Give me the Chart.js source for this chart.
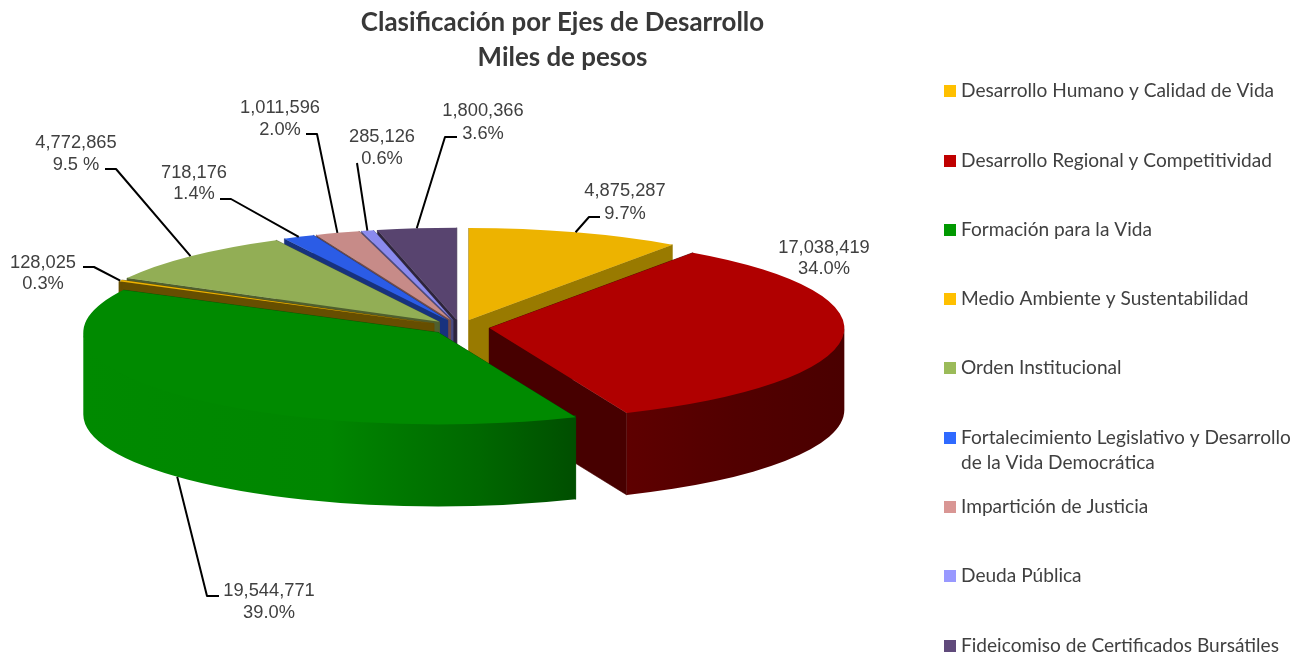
<!DOCTYPE html>
<html lang="es">
<head>
<meta charset="utf-8">
<title>Clasificación por Ejes de Desarrollo</title>
<script src="https://cdn.jsdelivr.net/npm/chart.js@4"></script>
<style>html,body{margin:0;padding:0;background:#fff;overflow:hidden}canvas{display:block}</style>
</head>
<body>
<canvas id="c" width="1309" height="656"></canvas>
<script>
const categories = ["Desarrollo Humano y Calidad de Vida","Desarrollo Regional y Competitividad","Formación para la Vida","Medio Ambiente y Sustentabilidad","Orden Institucional",["Fortalecimiento Legislativo y Desarrollo","de la Vida Democrática"],"Impartición de Justicia","Deuda Pública","Fideicomiso de Certificados Bursátiles"];
const values = [4875287,17038419,19544771,128025,4772865,718176,1011596,285126,1800366];
const percentLabels = ["9.7%","34.0%","39.0%","0.3%","9.5 %","1.4%","2.0%","0.6%","3.6%"];
const topColors = ["#EDB300","#B00000","#008A00","#EDB300","#92AE55","#2B5CE6","#C78B88","#8A8AEE","#58446F"];
const legendColors = ["#FFC000","#C00000","#009900","#FFC000","#9BBB59","#2F6AFF","#D99694","#9999FF","#604A7B"];
const wallColors = ["#997A00","#470000","#005000","#664E00","#4F5F2E","#17327E","#6E4B4A","#4A4A82","#2E243C"];
const paintOrder = [0,8,7,6,5,4,3,1,2];

// label placement: [centre x, first line y, second line y, elbow x, elbow y, end x]
const labelPlacement = [
  [625,191,214,589,217,600],
  [824,248,269,null,null,null],
  [269,591,613,207,596,219],
  [43,263,284,94,267,83],
  [76,143,165,116,169,105],
  [194,173,194,231,199,220],
  [280,108,130,317,134,306],
  [382,137,159,null,163,357],
  [483,111,134,445,137,457]
];
const pie3d = {cx:460, cy:327.3, rx:355, ry:92, explode:29.5, depth:82};
const legendBox = {x:944, text:961, rows:[91,161,230,299,368,438,507,576,646], line:25, size:12};

function sideFill(ctx,i){
  if(i===2){
    const g=ctx.createLinearGradient(83,0,577,0);
    g.addColorStop(0,"#008A00");g.addColorStop(.5,"#008600");g.addColorStop(.8,"#006800");g.addColorStop(1,"#004E00");
    return g;
  }
  if(i===1){
    const g=ctx.createLinearGradient(626,0,845,0);
    g.addColorStop(0,"#5E0000");g.addColorStop(.5,"#520000");g.addColorStop(1,"#4A0000");
    return g;
  }
  return wallColors[i];
}
function sliceGeom(el){
  const p=pie3d, mid=(el.startAngle+el.endAngle)/2, k=p.ry/p.rx;
  const ox=p.cx+p.explode*Math.cos(mid), oy=p.cy+p.explode*k*Math.sin(mid);
  return {mid,ox,oy,pt:a=>[ox+p.rx*Math.cos(a),oy+p.ry*Math.sin(a)]};
}
function drawWalls(ctx,el,i){
  const p=pie3d,g=sliceGeom(el),d=p.depth;
  ctx.fillStyle=wallColors[i];ctx.strokeStyle=wallColors[i];ctx.lineWidth=.6;
  for(const a of [el.startAngle,el.endAngle]){
    const q=g.pt(a);
    ctx.beginPath();ctx.moveTo(g.ox,g.oy);ctx.lineTo(q[0],q[1]);ctx.lineTo(q[0],q[1]+d);ctx.lineTo(g.ox,g.oy+d);ctx.closePath();ctx.fill();ctx.stroke();
  }
  const lo=Math.max(el.startAngle,0),hi=Math.min(el.endAngle,Math.PI);
  if(hi>lo){
    ctx.fillStyle=sideFill(ctx,i);
    ctx.beginPath();
    ctx.ellipse(g.ox,g.oy-2,p.rx,p.ry,0,lo,hi,false);
    ctx.ellipse(g.ox,g.oy+d,p.rx,p.ry,0,hi,lo,true);
    ctx.closePath();ctx.fill();
  }
}
const pie3dPlugin={
  id:"pie3d",
  beforeDatasetDraw(chart,args){
    const ctx=chart.ctx, els=args.meta.data;
    for(const i of paintOrder){
      const el=els[i], g=sliceGeom(el);
      drawWalls(ctx,el,i);
      const sx=pie3d.rx/el.outerRadius, sy=pie3d.ry/el.outerRadius;
      ctx.save();
      ctx.setTransform(sx,0,0,sy,g.ox-sx*el.x,g.oy-sy*el.y);
      el.draw(ctx);
      ctx.restore();
    }
    return false;
  },
  afterDraw(chart){
    const ctx=chart.ctx, els=chart.getDatasetMeta(0).data;
    // data labels and leader lines
    ctx.save();
    ctx.strokeStyle="#000";ctx.lineWidth=2;ctx.lineJoin="round";
    els.forEach((el,i)=>{
      const L=labelPlacement[i]; if(L[5]===null) return;
      const g=sliceGeom(el), s=g.pt(g.mid);
      const front=i===2;
      ctx.beginPath();ctx.moveTo(s[0],s[1]+(front?pie3d.depth:0));
      if(L[3]!==null){ctx.lineTo(L[3],L[4]);ctx.lineTo(L[5],L[4]);}
      else ctx.lineTo(L[5],L[4]);
      ctx.stroke();
    });
    ctx.fillStyle="#404040";ctx.font='18.3px "Liberation Sans"';ctx.textAlign="center";ctx.textBaseline="middle";
    els.forEach((el,i)=>{
      const L=labelPlacement[i];
      ctx.fillText(values[i].toLocaleString("en-US"),L[0],L[1]);
      ctx.fillText(percentLabels[i],L[0],L[2]);
    });
    // legend
    ctx.textAlign="left";ctx.font='19.1px Lato';
    categories.forEach((c,i)=>{
      const y=legendBox.rows[i];
      ctx.fillStyle=legendColors[i];
      ctx.fillRect(legendBox.x,y-legendBox.size/2,legendBox.size,legendBox.size);
      ctx.fillStyle="#404040";
      (Array.isArray(c)?c:[c]).forEach((t,j)=>ctx.fillText(t,legendBox.text,y+j*legendBox.line));
    });
    ctx.restore();
  }
};
new Chart(document.getElementById("c"),{
  type:"pie",
  data:{labels:categories.map(c=>Array.isArray(c)?c.join(" "):c),datasets:[{data:values,backgroundColor:topColors,borderWidth:0,clip:false}]},
  options:{
    responsive:false,animation:false,
    layout:{padding:{right:184}},
    plugins:{
      legend:{display:false},tooltip:{enabled:false},
      title:{display:true,fullSize:false,text:["Clasificación por Ejes de Desarrollo","Miles de pesos"],color:"#383838",font:{family:"Lato",size:25.9,weight:"bold",lineHeight:1.36},padding:{top:5,bottom:4}}
    }
  },
  plugins:[pie3dPlugin]
});
</script>
</body>
</html>
